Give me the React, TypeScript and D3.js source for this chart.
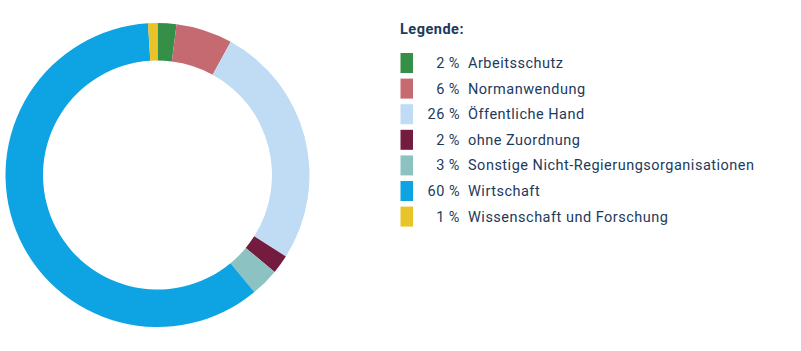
import React from "react";
import * as d3 from "d3";

const categories = [
  "Arbeitsschutz",
  "Normanwendung",
  "Öffentliche Hand",
  "ohne Zuordnung",
  "Sonstige Nicht-Regierungsorganisationen",
  "Wirtschaft",
  "Wissenschaft und Forschung",
];
const values = [2, 6, 26, 2, 3, 60, 1];
const colors = ["#368f47", "#c66a72", "#c0dcf5", "#731c40", "#8cc2c2", "#0ea3e2", "#e9c32a"];
const legendTitle = "Legende:";

const textColor = "#1d3a5c";

export default function App() {
  const width = 801;
  const height = 351;
  const cx = 157.5;
  const cy = 175;
  const outerR = 152;
  const innerR = 114.5;

  const pie = d3.pie<number>().sort(null).value((d) => d)(values);
  const arc = d3.arc<d3.PieArcDatum<number>>().innerRadius(innerR).outerRadius(outerR);

  const rowY = d3.scaleLinear().domain([0, 1]).range([63, 88.6]);

  return (
    <svg width={width} height={height} style={{ position: "absolute", left: 0, top: 0 }}
      fontFamily="Roboto, 'Noto Sans', sans-serif">
      <g transform={`translate(${cx},${cy})`}>
        {pie.map((p, i) => (
          <path key={i} d={arc(p) || ""} fill={colors[i]} />
        ))}
      </g>
      <text x={400} y={29} dy="0.35em" fontSize={14.5} fontWeight={700} fill={textColor} letterSpacing={0.5}>
        {legendTitle}
      </text>
      {categories.map((c, i) => (
        <g key={c} transform={`translate(0,${rowY(i)})`}>
          <rect x={400.5} y={-10} width={12.5} height={20} fill={colors[i]} />
          <text x={460} dy="0.35em" fontSize={14.5} textAnchor="end" fill={textColor} letterSpacing={0.5}>
            {`${values[i]} %`}
          </text>
          <text x={468} dy="0.35em" fontSize={14.5} fill={textColor} letterSpacing={0.5}>
            {c}
          </text>
        </g>
      ))}
    </svg>
  );
}
